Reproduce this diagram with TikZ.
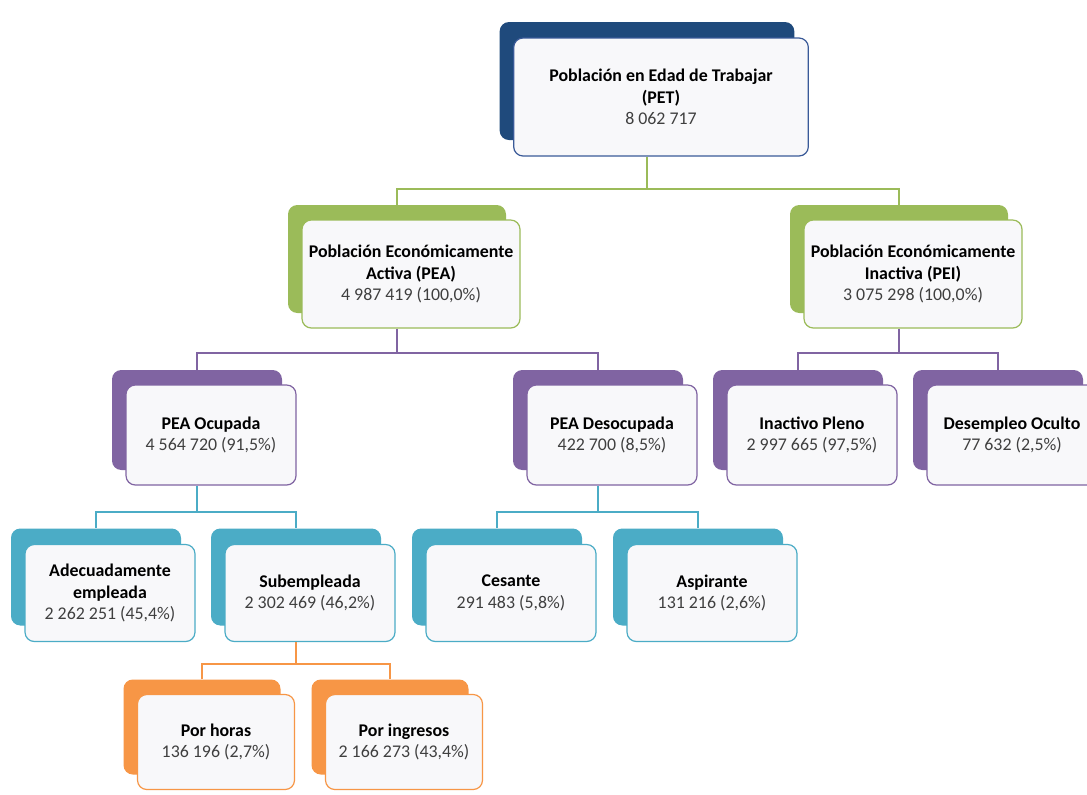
\documentclass[tikz,border=0pt]{standalone}
\usepackage{fontspec}
\setmainfont{Carlito}
\usetikzlibrary{positioning, calc}
\usepackage{xcolor}
\definecolor{petBlue}{HTML}{1F4A7C}
\definecolor{petLine}{HTML}{3A5A98}
\definecolor{peaGreen}{HTML}{9BBB59}
\definecolor{ocuPurple}{HTML}{8064A2}
\definecolor{subTeal}{HTML}{4BACC6}
\definecolor{horOrange}{HTML}{F79646}
\definecolor{numGray}{HTML}{3F3F3F}
\definecolor{cardFill}{HTML}{F8F8FA}
\tikzset{
    font=\fontsize{13.4}{16}\selectfont,
    % Tabs and cards
    tab/.style={rectangle, rounded corners=7pt, fill=#1, draw=none},
    card/.style={rectangle, rounded corners=7pt, draw=#1, line width=0.9pt,
                 fill=cardFill, align=center, text=black, inner sep=2pt},
    % Sizes per level
    lvlOne/.style={minimum width=221pt, minimum height=88.5pt},
    lvlTwo/.style={minimum width=163.5pt, minimum height=81pt},
    lvlThree/.style={minimum width=127.5pt, minimum height=75pt},
    lvlFour/.style={minimum width=127.5pt, minimum height=72.75pt},
    lvlFive/.style={minimum width=117.75pt, minimum height=71.25pt},
    % Connectors
    link/.style={draw=#1, line width=0.9pt}
}
\newcommand{\numtxt}[1]{{\color{numGray}#1}}

\begin{document}
\begin{tikzpicture}[x=0.75pt, y=-0.75pt]

\clip (0,0) rectangle (1087,794);
\fill[white] (0,0) rectangle (1087,794);

% Level 1
\node[tab=petBlue, lvlOne] (petb) at (647,81) {};
\node[card=petLine, lvlOne] (pet) at ([shift={(14,16)}]petb)
    {\textbf{Población en Edad de Trabajar}\\\textbf{(PET)}\\\numtxt{8 062 717}};

% Level 2
\node[tab=peaGreen, lvlTwo] (peab) at (397,259) {};
\node[card=peaGreen, lvlTwo] (pea) at ([shift={(14,15)}]peab)
    {\textbf{Población Económicamente}\\\textbf{Activa (PEA)}\\\numtxt{4 987 419 (100,0\%)}};
\node[tab=peaGreen, lvlTwo] (peib) at (899,259) {};
\node[card=peaGreen, lvlTwo] (pei) at ([shift={(14,15)}]peib)
    {\textbf{Población Económicamente}\\\textbf{Inactiva (PEI)}\\\numtxt{3 075 298 (100,0\%)}};

% Level 3
\node[tab=ocuPurple, lvlThree] (ocub) at (197,420) {};
\node[card=ocuPurple, lvlThree] (ocu) at ([shift={(14,15)}]ocub)
    {\textbf{PEA Ocupada}\\\numtxt{4 564 720 (91,5\%)}};
\node[tab=ocuPurple, lvlThree] (desb) at (598,420) {};
\node[card=ocuPurple, lvlThree] (des) at ([shift={(14,15)}]desb)
    {\textbf{PEA Desocupada}\\\numtxt{422 700 (8,5\%)}};
\node[tab=ocuPurple, lvlThree] (inab) at (798,420) {};
\node[card=ocuPurple, lvlThree] (ina) at ([shift={(14,15)}]inab)
    {\textbf{Inactivo Pleno}\\\numtxt{2 997 665 (97,5\%)}};
\node[tab=ocuPurple, lvlThree] (ocultb) at (998,420) {};
\node[card=ocuPurple, lvlThree] (oculto) at ([shift={(14,15)}]ocultb)
    {\textbf{Desempleo Oculto}\\\numtxt{77 632 (2,5\%)}};

% Level 4
\node[tab=subTeal, lvlFour] (adeb) at (96,577) {};
\node[card=subTeal, lvlFour] (ade) at ([shift={(14,16)}]adeb)
    {\textbf{Adecuadamente}\\\textbf{empleada}\\\numtxt{2 262 251 (45,4\%)}};
\node[tab=subTeal, lvlFour] (subb) at (296,577) {};
\node[card=subTeal, lvlFour] (sub) at ([shift={(14,16)}]subb)
    {\textbf{Subempleada}\\\numtxt{2 302 469 (46,2\%)}};
\node[tab=subTeal, lvlFour] (cesb) at (497,577) {};
\node[card=subTeal, lvlFour] (ces) at ([shift={(14,16)}]cesb)
    {\textbf{Cesante}\\\numtxt{291 483 (5,8\%)}};
\node[tab=subTeal, lvlFour] (aspb) at (698,577) {};
\node[card=subTeal, lvlFour] (asp) at ([shift={(14,16)}]aspb)
    {\textbf{Aspirante}\\\numtxt{131 216 (2,6\%)}};

% Level 5
\node[tab=horOrange, lvlFive] (horb) at (202,727) {};
\node[card=horOrange, lvlFive] (hor) at ([shift={(14,15)}]horb)
    {\textbf{Por horas}\\\numtxt{136 196 (2,7\%)}};
\node[tab=horOrange, lvlFive] (ingb) at (390,727) {};
\node[card=horOrange, lvlFive] (ing) at ([shift={(14,15)}]ingb)
    {\textbf{Por ingresos}\\\numtxt{2 166 273 (43,4\%)}};

% Connectors
\coordinate (busPet) at (647,189);
\draw[link=peaGreen] (pet.south -| petb) -- (busPet);
\draw[link=peaGreen] (peab.north) |- (busPet) -| (peib.north);

\coordinate (busPea) at (397,353);
\draw[link=ocuPurple] (pea.south -| peab) -- (busPea);
\draw[link=ocuPurple] (ocub.north) |- (busPea) -| (desb.north);

\coordinate (busPei) at (899,353);
\draw[link=ocuPurple] (pei.south -| peib) -- (busPei);
\draw[link=ocuPurple] (inab.north) |- (busPei) -| (ocultb.north);

\coordinate (busOcu) at (197,512);
\draw[link=subTeal] (ocu.south -| ocub) -- (busOcu);
\draw[link=subTeal] (adeb.north) |- (busOcu) -| (subb.north);

\coordinate (busDes) at (598,512);
\draw[link=subTeal] (des.south -| desb) -- (busDes);
\draw[link=subTeal] (cesb.north) |- (busDes) -| (aspb.north);

\coordinate (busSub) at (296,664);
\draw[link=horOrange] (sub.south -| subb) -- (busSub);
\draw[link=horOrange] (horb.north) |- (busSub) -| (ingb.north);

\end{tikzpicture}
\end{document}
